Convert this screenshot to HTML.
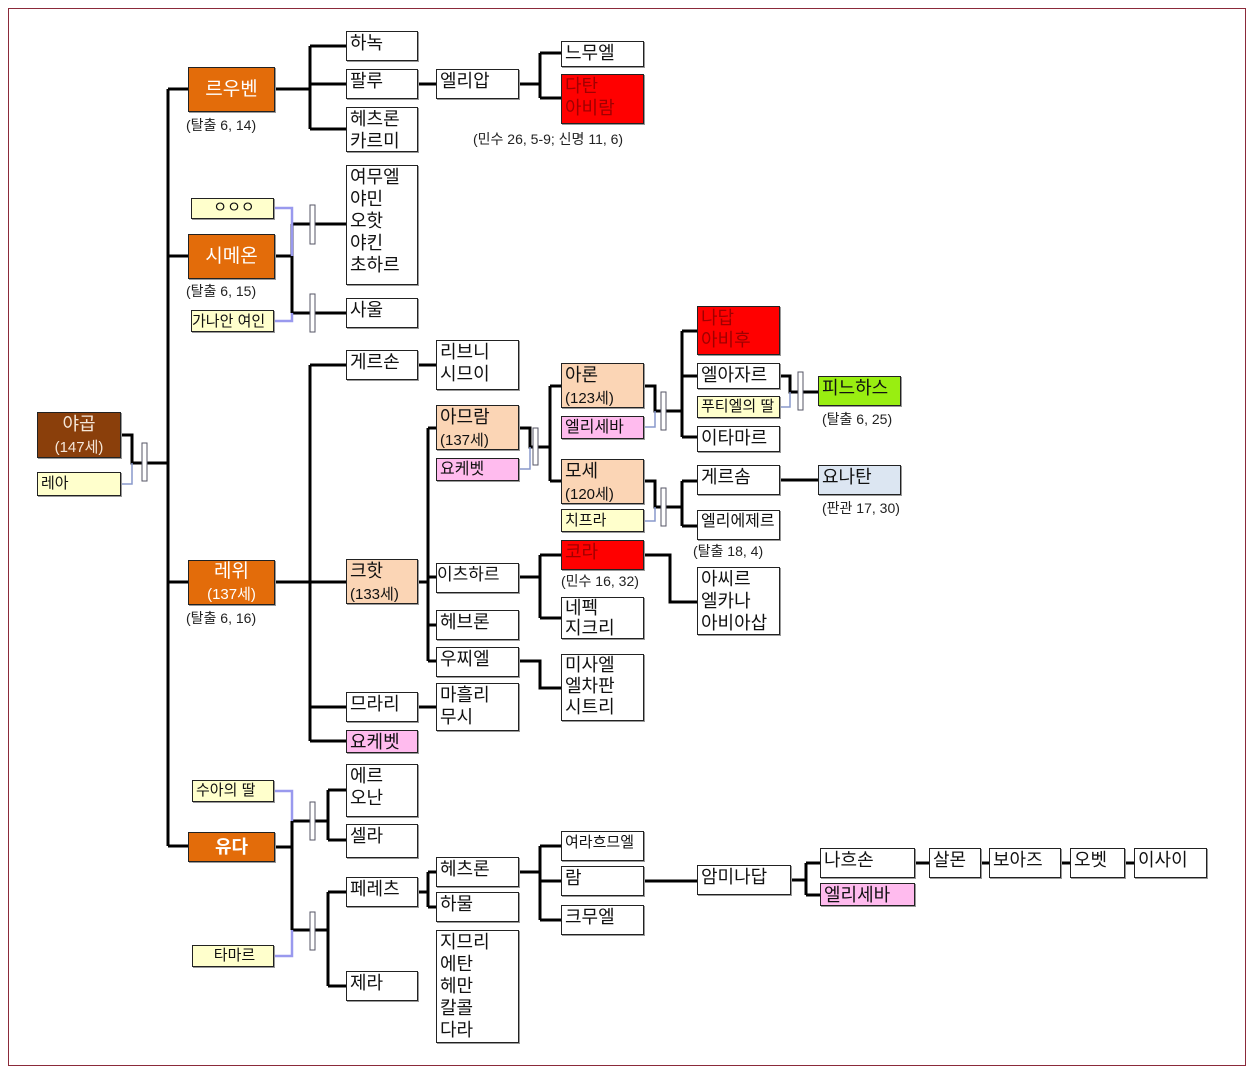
<!DOCTYPE html>
<html><head><meta charset="utf-8"><style>
body{margin:0;width:1253px;height:1073px;background:#fff;position:relative;overflow:hidden;font-family:"Liberation Sans","Noto Sans CJK KR","NanumGothic",sans-serif;}
.f{position:absolute;left:8px;top:8px;width:1236px;height:1056px;border:1px solid #8b2a3a;}
.b{position:absolute;border:1px solid #222;box-shadow:1px 1px 0 #999;background:#fff;font-size:18px;line-height:22px;padding-left:3px;box-sizing:border-box;color:#111;white-space:nowrap;overflow:hidden}
.o{background:#e36c0a;color:#fff;text-align:center;padding:0}
.br{background:#8a3f0b;color:#f5e6d8;text-align:center;padding:0}
.y{background:#ffffcc;font-size:15px}
.p{background:#fbd5b5}
.k{background:#ffbbee;font-size:16px}
.r{background:#ff0000;color:#a00000}
.g{background:#99ee11}
.lb{background:#dce6f2}
.s{font-size:15px}
.l{position:absolute;font-size:14px;color:#222;white-space:nowrap}
svg{position:absolute;left:0;top:0}
</style></head><body>
<div class="f"></div>
<svg width="1253" height="1073">
<g stroke="#000" stroke-width="3" fill="none">
<path d="M168 89V846M168 89H188M168 256H188M168 582H188M168 846H188"/>
<path d="M121 435H132V463H168"/>
<path d="M275 89H310M310 46V129M310 46H346M310 84H346M310 129H346M418 84H436M519 84H540M540 53V98M540 53H561M540 98H561"/>
<path d="M275 256H292M292 224V313M292 224H346M292 313H346"/>
<path d="M275 582H346M310 365V741M310 365H346M310 707H346M310 741H346M418 365H436M418 582H428M428 428V661M428 428H436M428 577H436M428 625H436M428 661H436M418 707H436"/>
<path d="M519 428H530V447H550M550 386V481M550 386H561M550 481H561"/>
<path d="M519 577H540M540 555V618M540 555H561M540 618H561M519 661H540V688H561M644 555H670V602H697"/>
<path d="M644 386H655V411H682M682 331V437M682 331H697M682 376H697M682 437H697M780 376H790V392H818"/>
<path d="M644 481H655V507H682M682 481V526M682 481H697M682 526H697M780 480H818"/>
<path d="M275 847H292M292 821V930M292 821H328M292 930H328M328 790V840M328 790H346M328 840H346M328 892V986M328 892H346M328 986H346"/>
<path d="M418 892H428M428 872V907M428 872H436M428 907H436M519 872H540M540 846V920M540 846H561M540 881H561M540 920H561M644 881H697M791 880H806M806 863V895M806 863H820M806 895H820"/>
<path d="M915 863H929M981 863H989M1061 863H1070M1125 863H1134"/>
</g>
<g stroke="#8899cc" stroke-width="1.5" fill="none">
<path d="M121 484H132V463M519 469H530V447M644 427H655V411M780 407H790V392M644 521H655V507"/>
</g>
<g stroke="#9999ee" stroke-width="2.5" fill="none">
<path d="M274 208H292V256M274 321H292V313M274 791H292V821M274 956H292V930"/>
</g>
<g fill="#fff" stroke="#556" stroke-width="1">
<rect x="142" y="443" width="5" height="38"/><rect x="310" y="205" width="5" height="39"/><rect x="310" y="294" width="5" height="38"/>
<rect x="533" y="428" width="5" height="37"/><rect x="661" y="392" width="5" height="38"/><rect x="661" y="488" width="5" height="38"/><rect x="798" y="372" width="5" height="38"/>
<rect x="310" y="802" width="5" height="38"/><rect x="310" y="912" width="5" height="38"/>
</g>
</svg>

<div class="b br" style="left:37px;top:412px;width:84px;height:46px">야곱<br><span class="s">(147세)</span></div>
<div class="b y" style="left:37px;top:472px;width:84px;height:24px">레아</div>

<div class="b o" style="left:188px;top:67px;width:87px;height:45px;line-height:43px;font-size:19px">르우벤</div>
<div class="l" style="left:186px;top:115px">(탈출 6, 14)</div>
<div class="b" style="left:346px;top:31px;width:72px;height:30px">하녹</div>
<div class="b" style="left:346px;top:69px;width:72px;height:30px">팔루</div>
<div class="b" style="left:346px;top:107px;width:72px;height:45px">헤츠론<br>카르미</div>
<div class="b" style="left:436px;top:69px;width:83px;height:30px">엘리압</div>
<div class="b" style="left:561px;top:41px;width:83px;height:26px">느무엘</div>
<div class="b r" style="left:561px;top:74px;width:83px;height:50px">다탄<br>아비람</div>
<div class="l" style="left:473px;top:129px">(민수 26, 5-9; 신명 11, 6)</div>

<div class="b y" style="left:191px;top:198px;width:83px;height:21px;text-align:center;line-height:18px">ㅇㅇㅇ</div>
<div class="b o" style="left:188px;top:234px;width:87px;height:45px;line-height:43px;font-size:19px">시메온</div>
<div class="l" style="left:186px;top:281px">(탈출 6, 15)</div>
<div class="b y" style="left:191px;top:310px;width:83px;height:22px;padding:0">가나안 여인</div>
<div class="b" style="left:346px;top:165px;width:72px;height:120px">여무엘<br>야민<br>오핫<br>야킨<br>초하르</div>
<div class="b" style="left:346px;top:298px;width:72px;height:30px">사울</div>

<div class="b o" style="left:188px;top:560px;width:87px;height:45px;font-size:19px">레위<br><span class="s">(137세)</span></div>
<div class="l" style="left:186px;top:608px">(탈출 6, 16)</div>
<div class="b" style="left:346px;top:350px;width:72px;height:30px">게르손</div>
<div class="b" style="left:436px;top:340px;width:83px;height:50px">리브니<br>시므이</div>
<div class="b p" style="left:436px;top:405px;width:83px;height:45px">아므람<br><span class="s">(137세)</span></div>
<div class="b k" style="left:436px;top:458px;width:83px;height:23px">요케벳</div>
<div class="b p" style="left:346px;top:559px;width:72px;height:45px">크핫<br><span class="s">(133세)</span></div>
<div class="b" style="left:436px;top:563px;width:83px;height:30px;padding:0;font-size:17px">이츠하르</div>
<div class="b" style="left:436px;top:610px;width:83px;height:30px">헤브론</div>
<div class="b" style="left:436px;top:647px;width:83px;height:30px">우찌엘</div>
<div class="b" style="left:346px;top:692px;width:72px;height:30px">므라리</div>
<div class="b k" style="left:346px;top:730px;width:72px;height:23px;font-size:18px">요케벳</div>
<div class="b" style="left:436px;top:683px;width:83px;height:48px">마흘리<br>무시</div>

<div class="b p" style="left:561px;top:363px;width:83px;height:45px">아론<br><span class="s">(123세)</span></div>
<div class="b k" style="left:561px;top:416px;width:83px;height:23px">엘리세바</div>
<div class="b p" style="left:561px;top:459px;width:83px;height:45px">모세<br><span class="s">(120세)</span></div>
<div class="b y" style="left:561px;top:509px;width:83px;height:23px">치프라</div>
<div class="b r" style="left:561px;top:540px;width:83px;height:30px">코라</div>
<div class="l" style="left:561px;top:571px">(민수 16, 32)</div>
<div class="b" style="left:561px;top:597px;width:83px;height:42px;line-height:20px">네펙<br>지크리</div>
<div class="b" style="left:561px;top:654px;width:83px;height:67px;line-height:21px">미사엘<br>엘차판<br>시트리</div>

<div class="b r" style="left:697px;top:306px;width:83px;height:49px">나답<br>아비후</div>
<div class="b" style="left:697px;top:363px;width:83px;height:26px">엘아자르</div>
<div class="b y" style="left:697px;top:396px;width:83px;height:22px;line-height:19px">푸티엘의 딸</div>
<div class="b" style="left:697px;top:426px;width:83px;height:26px">이타마르</div>
<div class="b g" style="left:818px;top:376px;width:83px;height:30px">피느하스</div>
<div class="l" style="left:822px;top:409px">(탈출 6, 25)</div>
<div class="b" style="left:697px;top:465px;width:83px;height:30px">게르솜</div>
<div class="b" style="left:697px;top:510px;width:83px;height:30px;font-size:16px">엘리에제르</div>
<div class="l" style="left:693px;top:541px">(탈출 18, 4)</div>
<div class="b lb" style="left:818px;top:465px;width:83px;height:30px">요나탄</div>
<div class="l" style="left:822px;top:498px">(판관 17, 30)</div>
<div class="b" style="left:697px;top:567px;width:83px;height:68px;line-height:22px">아씨르<br>엘카나<br>아비아삽</div>

<div class="b y" style="left:192px;top:780px;width:82px;height:22px;line-height:19px">수아의 딸</div>
<div class="b o" style="left:188px;top:832px;width:87px;height:30px;font-weight:bold;line-height:28px">유다</div>
<div class="b y" style="left:192px;top:945px;width:82px;height:22px;line-height:19px;text-align:center">타마르</div>
<div class="b" style="left:346px;top:764px;width:72px;height:53px">에르<br>오난</div>
<div class="b" style="left:346px;top:824px;width:72px;height:34px">셀라</div>
<div class="b" style="left:346px;top:877px;width:72px;height:30px">페레츠</div>
<div class="b" style="left:346px;top:971px;width:72px;height:30px">제라</div>
<div class="b" style="left:436px;top:857px;width:83px;height:30px">헤츠론</div>
<div class="b" style="left:436px;top:892px;width:83px;height:30px">하물</div>
<div class="b" style="left:436px;top:930px;width:83px;height:113px">지므리<br>에탄<br>헤만<br>칼콜<br>다라</div>
<div class="b" style="left:561px;top:831px;width:83px;height:30px;font-size:15px">여라흐므엘</div>
<div class="b" style="left:561px;top:866px;width:83px;height:30px">람</div>
<div class="b" style="left:561px;top:905px;width:83px;height:30px">크무엘</div>
<div class="b" style="left:697px;top:865px;width:94px;height:30px">암미나답</div>
<div class="b" style="left:820px;top:848px;width:95px;height:30px">나흐손</div>
<div class="b k" style="left:820px;top:883px;width:95px;height:23px;font-size:18px">엘리세바</div>
<div class="b" style="left:929px;top:848px;width:52px;height:30px">살몬</div>
<div class="b" style="left:989px;top:848px;width:72px;height:30px">보아즈</div>
<div class="b" style="left:1070px;top:848px;width:55px;height:30px">오벳</div>
<div class="b" style="left:1134px;top:848px;width:73px;height:30px">이사이</div>
</body></html>
